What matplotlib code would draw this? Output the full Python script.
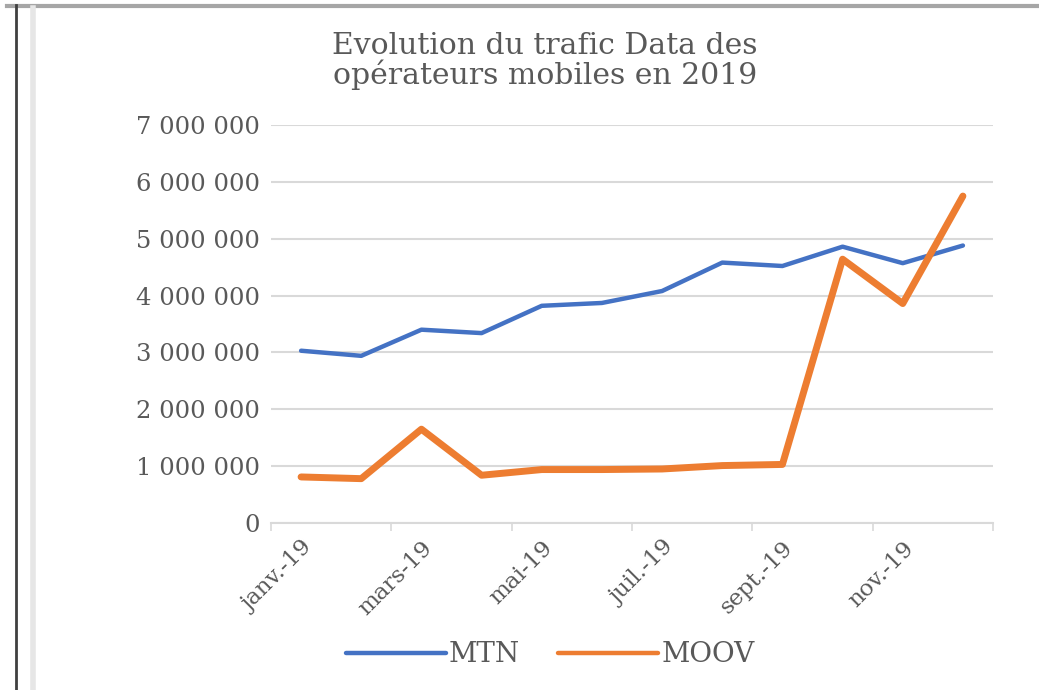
import matplotlib
matplotlib.use("Agg")
import matplotlib.pyplot as plt
from matplotlib.lines import Line2D

months = ["janv.-19", "févr.-19", "mars-19", "avr.-19", "mai-19", "juin-19",
          "juil.-19", "août-19", "sept.-19", "oct.-19", "nov.-19", "déc.-19"]
mtn = [3030000, 2940000, 3400000, 3340000, 3820000, 3870000,
       4080000, 4580000, 4520000, 4860000, 4570000, 4880000]
moov = [810000, 780000, 1650000, 840000, 940000, 940000,
        950000, 1010000, 1030000, 4640000, 3860000, 5750000]
yticks = [0, 1000000, 2000000, 3000000, 4000000, 5000000, 6000000, 7000000]
title = "Evolution du trafic Data des\nopérateurs mobiles en 2019"

plt.rcParams['font.family'] = ['DejaVu Serif']
TXT = '#595959'

fig = plt.figure(figsize=(10.39, 6.90), dpi=100)
W, H = 1039, 690
ax = fig.add_axes([271 / W, 1 - 523 / H, (993 - 271) / W, (523 - 125) / H])

x = list(range(len(months)))
ax.plot(x, mtn, color='#4472C4', lw=3.2, solid_capstyle='round', solid_joinstyle='round', zorder=3)
ax.plot(x, moov, color='#ED7D31', lw=5.0, solid_capstyle='round', solid_joinstyle='round', zorder=3)

ax.set_xlim(-0.5, 11.5)
ax.set_ylim(0, 7000000)
ax.set_yticks(yticks)
ax.set_yticklabels([f"{v:,}".replace(",", " ") for v in yticks], color=TXT, fontsize=17.5)
ax.grid(axis='y', color='#d9d9d9', lw=1.5, zorder=0)
ax.tick_params(axis='y', length=0, pad=8)

ax.set_xticks([i - 0.5 for i in range(0, 13, 2)])
ax.set_xticklabels([])
ax.tick_params(axis='x', which='major', length=6, width=1.2, color='#d9d9d9', direction='out')
ax.set_xticks(list(range(0, 12, 2)), minor=True)
ax.set_xticklabels([months[i] for i in range(0, 12, 2)], minor=True, rotation=45,
                   ha='right', va='top', rotation_mode='anchor', color=TXT, fontsize=16.5)
ax.tick_params(axis='x', which='minor', length=0, pad=10)

for s in ['top', 'right', 'left']:
    ax.spines[s].set_visible(False)
ax.spines['bottom'].set_color('#d9d9d9')
ax.spines['bottom'].set_linewidth(1.5)

fig.text(545 / W, 1 - 61 / H, title, ha='center', va='center', fontsize=21.5,
         color=TXT, linespacing=0.95)

handles = [Line2D([], [], color='#4472C4', lw=3.2, solid_capstyle='round'),
           Line2D([], [], color='#ED7D31', lw=3.2, solid_capstyle='round')]
fig.legend(handles, ["MTN", "MOOV"], loc='center', bbox_to_anchor=(550 / W, 1 - 655 / H),
           ncol=2, frameon=False, fontsize=20, handlelength=3.6, handletextpad=0.1,
           columnspacing=1.4, labelcolor=TXT)

# border lines
fig.add_artist(Line2D([7 / W, 1], [1 - 6 / H, 1 - 6 / H], color='#a6a6a6', lw=3))
fig.add_artist(Line2D([16 / W, 16 / W], [0, 1 - 5 / H], color='#404040', lw=2))
fig.add_artist(Line2D([33 / W, 33 / W], [0, 1 - 8 / H], color='#e6e6e6', lw=4))

fig.savefig("out.png", dpi=100)
